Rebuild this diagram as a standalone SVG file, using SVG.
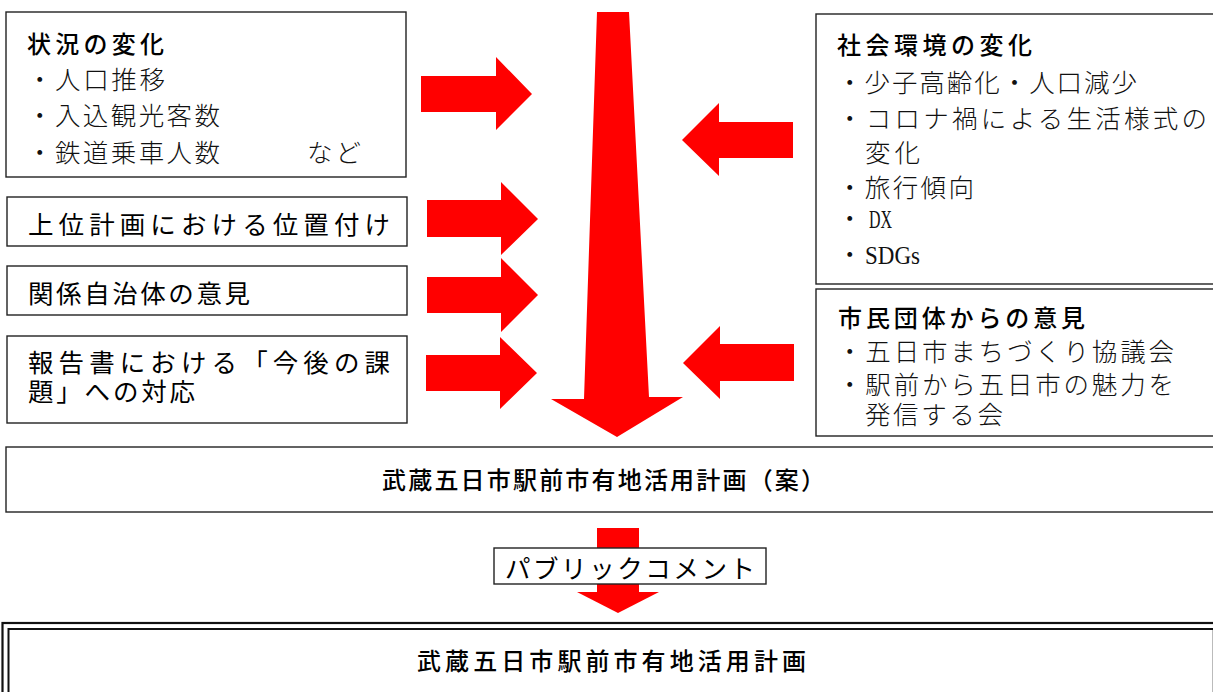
<svg xmlns="http://www.w3.org/2000/svg" width="1213" height="692" viewBox="0 0 1213 692">
<style>
.box{fill:#fff;stroke:#222;stroke-width:1.4}
.arr{fill:#ff0000;stroke:none}
.h{font-family:"Noto Sans CJK JP","Noto Sans",sans-serif;font-size:24px;fill:#000;font-weight:500}
.t{font-family:"Noto Sans CJK JP","Noto Sans",sans-serif;font-size:25.5px;fill:#111;font-weight:300}
.g{font-family:"Noto Sans CJK JP","Noto Sans",sans-serif;font-size:25.5px;fill:#000;font-weight:400}
.l{font-family:"Liberation Serif",serif;font-size:26px;fill:#111;font-weight:400}
</style>
<rect width="1213" height="692" fill="#fff"/>
<g id="connectors">
<polygon class="arr" points="597,12 629,12 649,397 683,397 617,437 551,399 584,399"/>
<polygon class="arr" points="421,76 496,76 496,57 532,94 496,130 496,112 421,112"/>
<polygon class="arr" points="427,200 501,200 501,182 538,219 501,255 501,237 427,237"/>
<polygon class="arr" points="427,277 501,277 501,258 538,295 501,332 501,313 427,313"/>
<polygon class="arr" points="426,355 500,355 500,337 537,373 500,409 500,391 426,391"/>
<polygon class="arr" points="793,122 719,122 719,103 682,140 719,176 719,158 793,158"/>
<polygon class="arr" points="794,344 720,344 720,326 683,363 720,399 720,381 794,381"/>
<rect class="arr" x="597" y="528" width="42" height="64"/>
<polygon class="arr" points="577,592 659,592 618,613"/>
</g>
<g id="n-joukyou">
<rect class="box" x="6" y="12" width="400" height="165"/>
<text class="h" x="27" y="52.5" textLength="137" lengthAdjust="spacing">状況の変化</text>
<text class="t" x="27" y="88.5" textLength="138" lengthAdjust="spacing">・人口推移</text>
<text class="t" x="27" y="125" textLength="193" lengthAdjust="spacing">・入込観光客数</text>
<text class="t" x="27" y="162" textLength="193" lengthAdjust="spacing">・鉄道乗車人数</text>
<text class="t" x="307" y="162" textLength="54" lengthAdjust="spacing">など</text>
</g>
<g id="n-joui">
<rect class="box" x="7" y="197" width="400" height="49"/>
<text class="g" x="28" y="233.5" textLength="362" lengthAdjust="spacing">上位計画における位置付け</text>
</g>
<g id="n-kankei">
<rect class="box" x="7" y="266" width="400" height="49"/>
<text class="g" x="28" y="302.5" textLength="222" lengthAdjust="spacing">関係自治体の意見</text>
</g>
<g id="n-houkoku">
<rect class="box" x="7" y="336" width="400" height="87"/>
<text class="g" x="28" y="371.5" textLength="362" lengthAdjust="spacing">報告書における「今後の課</text>
<text class="g" x="28" y="401" textLength="167" lengthAdjust="spacing">題」への対応</text>
</g>
<g id="n-shakai">
<rect class="box" x="816" y="14" width="420" height="270"/>
<text class="h" x="837" y="53.5" textLength="195" lengthAdjust="spacing">社会環境の変化</text>
<text class="t" x="837" y="92" textLength="300" lengthAdjust="spacing">・少子高齢化・人口減少</text>
<text class="t" x="837" y="127.5" textLength="370" lengthAdjust="spacing">・コロナ禍による生活様式の</text>
<text class="t" x="865" y="162" textLength="55" lengthAdjust="spacing">変化</text>
<text class="t" x="837" y="196.5" textLength="137" lengthAdjust="spacing">・旅行傾向</text>
<text class="t" x="837" y="228">・<tspan class="l" x="869" textLength="23" lengthAdjust="spacingAndGlyphs">DX</tspan></text>
<text class="t" x="837" y="263.5">・<tspan class="l" x="865" textLength="55" lengthAdjust="spacingAndGlyphs">SDGs</tspan></text>
</g>
<g id="n-shimin">
<rect class="box" x="816" y="289" width="420" height="147"/>
<text class="h" x="838" y="326.5" textLength="247" lengthAdjust="spacing">市民団体からの意見</text>
<text class="t" x="837" y="360.5" textLength="337" lengthAdjust="spacing">・五日市まちづくり協議会</text>
<text class="t" x="837" y="393.5" textLength="337" lengthAdjust="spacing">・駅前から五日市の魅力を</text>
<text class="t" x="865" y="423.5" textLength="138" lengthAdjust="spacing">発信する会</text>
</g>
<g id="n-an">
<rect class="box" x="6" y="447" width="1230" height="65"/>
<text class="h" x="382" y="488.5" font-size="25.5" textLength="443" lengthAdjust="spacing">武蔵五日市駅前市有地活用計画（案）</text>
</g>
<g id="n-pubcom">
<rect class="box" x="494" y="548" width="272" height="36"/>
<text class="g" x="505" y="577.5" font-size="26" textLength="250" lengthAdjust="spacing">パブリックコメント</text>
</g>
<g id="n-keikaku">
<rect x="2.5" y="623" width="1240" height="100" fill="#fff" stroke="#111" stroke-width="2.2"/>
<rect x="8.5" y="629" width="1230" height="100" fill="none" stroke="#111" stroke-width="2"/>
<line x1="1212.5" y1="630" x2="1212.5" y2="692" stroke="#bbb" stroke-width="1"/>
<text class="h" x="417" y="670" font-size="25" textLength="389" lengthAdjust="spacing">武蔵五日市駅前市有地活用計画</text>
</g>
</svg>
